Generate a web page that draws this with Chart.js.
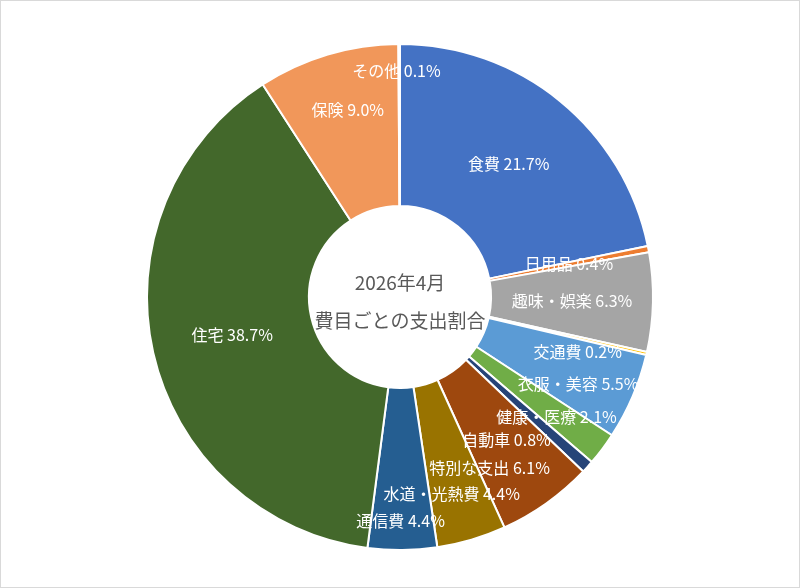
<!DOCTYPE html>
<html>
<head>
<meta charset="utf-8">
<script src="https://cdn.jsdelivr.net/npm/chart.js@4/dist/chart.umd.min.js"></script>
<style>
  html, body { margin: 0; padding: 0; background: #fff; }
  #wrap { width: 798px; height: 586px; border: 1px solid #d9d9d9; }
</style>
</head>
<body>
<div id="wrap"><canvas id="myChart" width="798" height="586"></canvas></div>
<script>
// categories and shares (%) for April 2026
const categories = ['食費', '日用品', '趣味・娯楽', '交通費', '衣服・美容', '健康・医療', '自動車',
  '特別な支出', '水道・光熱費', '通信費', '住宅', '保険', 'その他'];
const shares = [21.7, 0.4, 6.3, 0.2, 5.5, 2.1, 0.8, 6.1, 4.4, 4.4, 38.7, 9.0, 0.1];
const sliceColors = ['#4472C4', '#ED7D31', '#A5A5A5', '#FFC000', '#5B9BD5', '#70AD47', '#264478',
  '#9E480E', '#997300', '#255E91', '#43682B', '#F1975A', '#B7B7B7'];
const centerTitle = ['2026年4月', '費目ごとの支出割合'];

// label shifts (px) so the small slices' labels don't overlap
const labelNudge = [[0, 0], [0, 0], [0, 0], [10, 16], [20, 19], [19, 17], [-21, 27],
  [-10, 31], [3, 32], [-1, 52], [0, 0], [-3, -22], [-3, -54]];

const sliceLabels = {
  id: 'sliceLabels',
  afterDatasetsDraw(chart) {
    const ctx = chart.ctx;
    const arcs = chart.getDatasetMeta(0).data;
    ctx.save();
    ctx.font = '16px "Noto Sans CJK JP", "Noto Sans", sans-serif';
    ctx.fillStyle = '#ffffff';
    ctx.textAlign = 'center';
    ctx.textBaseline = 'middle';
    arcs.forEach((arc, i) => {
      const p = arc.getProps(['x', 'y', 'startAngle', 'endAngle', 'innerRadius', 'outerRadius'], true);
      const mid = (p.startAngle + p.endAngle) / 2;
      const r = (p.innerRadius + p.outerRadius) / 2;
      const x = p.x + Math.cos(mid) * r + labelNudge[i][0];
      const y = p.y + Math.sin(mid) * r + labelNudge[i][1];
      ctx.fillText(categories[i] + ' ' + shares[i].toFixed(1) + '%', x, y);
    });
    // title in the hole
    const c = arcs[0];
    ctx.fillStyle = '#595959';
    ctx.font = '19px "Noto Sans CJK JP", "Noto Sans", sans-serif';
    ctx.fillText(centerTitle[0], c.x, c.y - 14);
    ctx.fillText(centerTitle[1], c.x, c.y + 24);
    ctx.restore();
  }
};

new Chart(document.getElementById('myChart'), {
  type: 'doughnut',
  data: {
    labels: categories,
    datasets: [{
      data: shares,
      backgroundColor: sliceColors,
      borderColor: '#ffffff',
      borderWidth: 2
    }]
  },
  options: {
    responsive: false,
    animation: false,
    cutout: '36%',
    layout: { padding: { top: 42, bottom: 36 } },
    plugins: {
      legend: { display: false },
      tooltip: { enabled: false }
    }
  },
  plugins: [sliceLabels]
});
</script>
</body>
</html>
